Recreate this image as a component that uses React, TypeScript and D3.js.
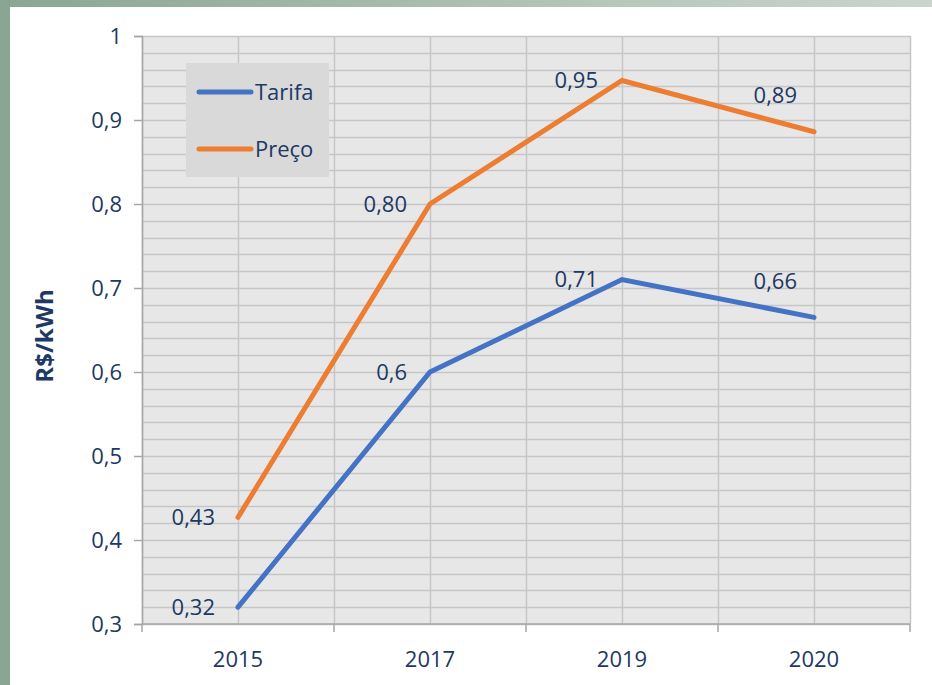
import React, { useEffect, useRef } from 'react';
import * as d3 from 'd3';

const years = ['2015', '2017', '2019', '2020'];
const tarifa = [0.32, 0.6, 0.71, 0.665];
const preco = [0.427, 0.8, 0.947, 0.886];
const tarifaLabels = ['0,32', '0,6', '0,71', '0,66'];
const precoLabels = ['0,43', '0,80', '0,95', '0,89'];
const yTicks = [0.3, 0.4, 0.5, 0.6, 0.7, 0.8, 0.9, 1];
const yTickLabels = ['0,3', '0,4', '0,5', '0,6', '0,7', '0,8', '0,9', '1'];

const W = 932;
const H = 685;
const FONT = '"Open Sans", sans-serif';
const TEXT = '#203864';

export default function App() {
  const ref = useRef<SVGSVGElement>(null);

  useEffect(() => {
    const svg = d3.select(ref.current);
    svg.selectAll('*').remove();

    const margin = { top: 36, right: 22, bottom: 61, left: 142 };
    const width = W - margin.left - margin.right;
    const height = H - margin.top - margin.bottom;

    // frame
    const defs = svg.append('defs');
    const grad = defs.append('linearGradient').attr('id', 'topbar');
    grad.append('stop').attr('offset', '0%').attr('stop-color', '#8aa593');
    grad.append('stop').attr('offset', '70%').attr('stop-color', '#b9c9be');
    grad.append('stop').attr('offset', '100%').attr('stop-color', '#c9d5cd');
    svg.append('rect').attr('width', W).attr('height', H).attr('fill', '#ffffff');
    svg.append('rect').attr('width', W).attr('height', 7).attr('fill', 'url(#topbar)');
    svg.append('rect').attr('width', 10).attr('height', H).attr('fill', '#8aa593');

    const g = svg.append('g').attr('transform', `translate(${margin.left},${margin.top})`);

    const x = d3.scaleBand().domain(years).range([0, width]);
    const xc = (d: string) => x(d)! + x.bandwidth() / 2;
    const y = d3.scaleLinear().domain([0.3, 1]).range([height, 0]);

    g.append('rect').attr('width', width).attr('height', height).attr('fill', '#e7e7e7');

    // minor horizontal grid
    g.append('g')
      .selectAll('line')
      .data(d3.range(0.3, 1.0001, 0.02))
      .join('line')
      .attr('x1', 0)
      .attr('x2', width)
      .attr('y1', (d) => Math.round(y(d)) + 0.5)
      .attr('y2', (d) => Math.round(y(d)) + 0.5)
      .attr('stroke', '#c6c6c6')
      .attr('stroke-width', 1.5);

    // vertical grid: band centers and edges
    const edges = years.map((d) => x(d)!).concat([width]);
    const vlines = edges.concat(years.map(xc));
    g.append('g')
      .selectAll('line')
      .data(vlines)
      .join('line')
      .attr('x1', (d) => Math.round(d) + 0.5)
      .attr('x2', (d) => Math.round(d) + 0.5)
      .attr('y1', 0)
      .attr('y2', height)
      .attr('stroke', '#c6c6c6')
      .attr('stroke-width', 1.5);

    // axes
    const yAxis = g
      .append('g')
      .call(
        d3
          .axisLeft(y)
          .tickValues(yTicks)
          .tickSize(8)
          .tickPadding(12)
          .tickFormat((d, i) => yTickLabels[i]),
      );
    yAxis.select('.domain').attr('stroke', '#a6a6a6').attr('stroke-width', 1.5);
    yAxis.selectAll('.tick line').attr('stroke', '#a6a6a6').attr('stroke-width', 1.5);
    yAxis
      .selectAll('.tick text')
      .attr('font-family', FONT)
      .attr('font-size', 22)
      .attr('fill', TEXT);

    const xAxis = g.append('g').attr('transform', `translate(0,${height})`);
    xAxis
      .append('line')
      .attr('x1', 0)
      .attr('x2', width)
      .attr('stroke', '#a6a6a6')
      .attr('stroke-width', 1.5);
    xAxis
      .selectAll('line.tk')
      .data(edges)
      .join('line')
      .attr('class', 'tk')
      .attr('x1', (d) => d)
      .attr('x2', (d) => d)
      .attr('y1', 0)
      .attr('y2', 8)
      .attr('stroke', '#a6a6a6')
      .attr('stroke-width', 1.5);
    xAxis
      .selectAll('text')
      .data(years)
      .join('text')
      .attr('x', (d) => xc(d))
      .attr('y', 43)
      .attr('text-anchor', 'middle')
      .attr('font-family', FONT)
      .attr('font-size', 22)
      .attr('fill', TEXT)
      .text((d) => d);

    // y title
    svg
      .append('text')
      .attr('transform', `translate(53,${margin.top + height / 2 + 6}) rotate(-90)`)
      .attr('text-anchor', 'middle')
      .attr('font-family', FONT)
      .attr('font-weight', 'bold')
      .attr('font-size', 24)
      .attr('fill', TEXT)
      .text('R$/kWh');

    // lines
    const line = d3
      .line<number>()
      .x((_, i) => xc(years[i]))
      .y((d) => y(d));

    const series = [
      { values: tarifa, labels: tarifaLabels, color: '#4472c4' },
      { values: preco, labels: precoLabels, color: '#ed7d31' },
    ];

    series.forEach((s) => {
      g.append('path')
        .datum(s.values)
        .attr('d', line)
        .attr('fill', 'none')
        .attr('stroke', s.color)
        .attr('stroke-width', 5)
        .attr('stroke-linecap', 'round')
        .attr('stroke-linejoin', 'miter');
    });

    // data labels (offsets relative to point)
    const labelOffset = [
      { dx: -23, dy: 0 },
      { dx: -23, dy: 0 },
      { dx: -24, dy: 0 },
      { dx: -17, dy: -36 },
    ];
    series.forEach((s) => {
      g.append('g')
        .selectAll('text')
        .data(s.values)
        .join('text')
        .attr('x', (_, i) => xc(years[i]) + labelOffset[i].dx)
        .attr('y', (d, i) => y(d) + labelOffset[i].dy)
        .attr('dy', '0.35em')
        .attr('text-anchor', 'end')
        .attr('font-family', FONT)
        .attr('font-size', 22)
        .attr('fill', TEXT)
        .text((_, i) => s.labels[i]);
    });

    // legend
    const leg = svg.append('g').attr('transform', 'translate(186,63)');
    leg.append('rect').attr('width', 143).attr('height', 114).attr('fill', '#d9d9d9');
    const names = ['Tarifa', 'Preço'];
    names.forEach((n, i) => {
      const ly = 29 + i * 57;
      leg
        .append('line')
        .attr('x1', 13)
        .attr('x2', 65)
        .attr('y1', ly)
        .attr('y2', ly)
        .attr('stroke', series[i].color)
        .attr('stroke-width', 5)
        .attr('stroke-linecap', 'round');
      leg
        .append('text')
        .attr('x', 69)
        .attr('y', ly)
        .attr('dy', '0.35em')
        .attr('font-family', FONT)
        .attr('font-size', 22)
        .attr('fill', TEXT)
        .text(n);
    });
  }, []);

  return (
    <svg
      ref={ref}
      width={W}
      height={H}
      style={{ position: 'absolute', left: 0, top: 0, display: 'block' }}
    />
  );
}
